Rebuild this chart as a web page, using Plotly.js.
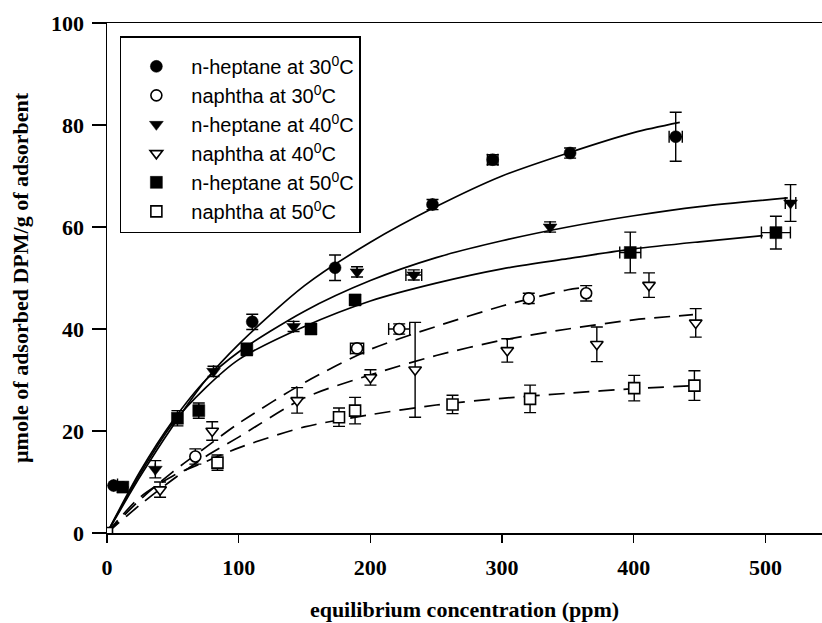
<!DOCTYPE html>
<html>
<head>
<meta charset="utf-8">
<script src="https://cdn.plot.ly/plotly-3.0.1.min.js"></script>
<style>
  html, body { margin: 0; padding: 0; background: #ffffff; }
  #chart { width: 822px; height: 623px; }
</style>
</head>
<body>
<div id="chart"></div>
<script>
// Measured adsorption points (x: equilibrium concentration, ppm; y: µmole/g)
const hep30X = [5, 110.3, 173.2, 247.2, 292.9, 351.7, 431.9];
const hep30Y = [9.3, 41.4, 52, 64.4, 73.2, 74.5, 77.7];
const hep30ErrY = [null, 1.5, 2.5, 1, 1, 1, 4.8];
const hep30ErrX = [null, null, null, null, 4, null, 5];

const nap30X = [67.1, 189.9, 221.9, 320.3, 363.9];
const nap30Y = [15, 36.2, 40, 46, 47];
const nap30ErrY = [1.5, 1, 1, 1, 1.5];
const nap30ErrX = [null, 5, 8, null, null];

const hep40X = [8, 36.7, 80.9, 141.7, 189.9, 233, 336.5, 519.1];
const hep40Y = [9.5, 12.5, 31.7, 40.5, 51.2, 50.6, 60, 64.7];
const hep40ErrY = [null, 1.7, 1, 1, 1, 1, 1, 3.6];
const hep40ErrX = [null, null, null, null, null, 6, null, 4];

const nap40X = [40.3, 79.9, 144.4, 200.1, 234, 304, 372, 411.6, 447.1];
const nap40Y = [8.5, 20, 26, 30.5, 32, 35.8, 37, 48.6, 41.2];
const nap40ErrY = [1.5, 1.8, 2.5, 1.5, 9.3, 2.3, 3.4, 2.4, 2.8];

const hep50X = [12, 53.5, 69.7, 106.2, 154.9, 188.4, 397.4, 508];
const hep50Y = [9, 22.5, 24, 36, 40, 45.7, 55, 58.9];
const hep50ErrY = [null, 1.5, 1.5, 1.2, 1, 1, 4, 3.2];
const hep50ErrX = [null, null, null, null, null, 4, 8, 11];

const nap50X = [0, 83.9, 176.2, 188.4, 262.4, 321.3, 400.4, 446.1];
const nap50Y = [0, 13.8, 22.7, 24, 25.2, 26.3, 28.4, 28.9];
const nap50ErrY = [null, 1.5, 1.8, 2.6, 1.8, 2.7, 2.5, 2.9];

// Fitted isotherm curves
const fitHep30X = [0, 25, 50, 75, 100, 150, 200, 250, 300, 350, 400, 435];
const fitHep30Y = [0, 11, 21, 30, 37, 48.5, 57, 64, 70, 74.5, 78.5, 80.5];

const fitHep40X = [0, 25, 50, 75, 100, 150, 200, 250, 300, 350, 400, 450, 517];
const fitHep40Y = [0, 12, 22, 30, 35.5, 43.5, 49.5, 54, 57.3, 60, 62.2, 64, 65.7];

const fitHep50X = [0, 25, 50, 75, 100, 150, 200, 250, 300, 350, 400, 450, 498];
const fitHep50Y = [0, 11.5, 21.5, 28.5, 34, 40.5, 45.5, 49, 51.8, 53.8, 55.7, 57.1, 58.3];

const fitNap30X = [0, 25, 50, 75, 100, 150, 200, 250, 300, 350, 364];
const fitNap30Y = [0, 6.5, 12, 16.8, 21.5, 29.5, 36, 40.5, 44.5, 47.7, 48.2];

const fitNap40X = [0, 25, 50, 75, 100, 150, 200, 250, 300, 350, 400, 445];
const fitNap40Y = [0, 5.5, 10.5, 15, 18.8, 26.5, 31, 34.8, 37.8, 40, 41.8, 42.8];

const fitNap50X = [0, 10, 25, 50, 75, 100, 150, 200, 250, 300, 350, 400, 445];
const fitNap50Y = [0, 3, 7, 11.2, 14, 16.7, 20.8, 23.2, 25.1, 26.4, 27.4, 28.3, 28.9];

const xTicks = [0, 100, 200, 300, 400, 500];
const yTicks = [0, 20, 40, 60, 80, 100];

const legendNames = [
  'n-heptane at 30<sup>0</sup>C',
  'naphtha at 30<sup>0</sup>C',
  'n-heptane at 40<sup>0</sup>C',
  'naphtha at 40<sup>0</sup>C',
  'n-heptane at 50<sup>0</sup>C',
  'naphtha at 50<sup>0</sup>C'
];

function fitLine(x, y, dashed) {
  return {
    x: x, y: y, type: 'scatter', mode: 'lines', showlegend: false,
    hoverinfo: 'skip',
    line: { color: '#000', width: 1.7, shape: 'spline', smoothing: 0.8,
            dash: dashed ? '16px,9px' : 'solid' }
  };
}

function points(name, x, y, ey, ex, symbol, open) {
  const t = {
    x: x, y: y, type: 'scatter', mode: 'markers', name: name,
    marker: {
      symbol: symbol, size: open ? 11 : 12,
      color: open ? '#fff' : '#000',
      line: { color: '#000', width: open ? 1.6 : 0.5 }
    },
    error_y: { type: 'data', array: ey, visible: true, color: '#000', thickness: 1.4, width: 6 }
  };
  if (ex) {
    t.error_x = { type: 'data', array: ex, visible: true, color: '#000', thickness: 1.4, width: 6 };
  }
  return t;
}

const data = [
  fitLine(fitHep30X, fitHep30Y, false),
  fitLine(fitHep40X, fitHep40Y, false),
  fitLine(fitHep50X, fitHep50Y, false),
  fitLine(fitNap30X, fitNap30Y, true),
  fitLine(fitNap40X, fitNap40Y, true),
  fitLine(fitNap50X, fitNap50Y, true),
  points(legendNames[0], hep30X, hep30Y, hep30ErrY, hep30ErrX, 'circle', false),
  points(legendNames[1], nap30X, nap30Y, nap30ErrY, nap30ErrX, 'circle', true),
  points(legendNames[2], hep40X, hep40Y, hep40ErrY, hep40ErrX, 'triangle-down', false),
  points(legendNames[3], nap40X, nap40Y, nap40ErrY, null, 'triangle-down', true),
  points(legendNames[4], hep50X, hep50Y, hep50ErrY, hep50ErrX, 'square', false),
  points(legendNames[5], nap50X, nap50Y, nap50ErrY, null, 'square', true)
];

const serif = 'Liberation Serif, Times New Roman, serif';
const tickFont = { family: serif, size: 22, color: '#000', weight: 'bold' };
const titleFont = { family: serif, size: 22, color: '#000', weight: 'bold' };

const layout = {
  width: 822, height: 623,
  margin: { l: 107, r: 0, t: 23, b: 90 },
  paper_bgcolor: '#fff', plot_bgcolor: '#fff',
  showlegend: true,
  legend: {
    x: 0.018, y: 0.974, xanchor: 'left', yanchor: 'top',
    bordercolor: '#000', borderwidth: 1.5, bgcolor: '#fff',
    font: { family: 'Liberation Sans, Arial, sans-serif', size: 20, color: '#000' },
    title: { text: '&nbsp;', font: { size: 7 } },
    traceorder: 'normal', itemwidth: 60
  },
  xaxis: {
    range: [0, 543], tickvals: xTicks, ticks: 'outside', ticklen: 8, tickwidth: 1.5,
    tickcolor: '#000', showline: true, linecolor: '#000', linewidth: 1.5, mirror: true,
    showgrid: false, zeroline: false, tickfont: tickFont, ticklabelstandoff: 6,
    title: { text: 'equilibrium concentration (ppm)', font: titleFont, standoff: 22 }
  },
  yaxis: {
    range: [0, 100], tickvals: yTicks, ticks: 'outside', ticklen: 14, tickwidth: 1.5,
    tickcolor: '#000', showline: true, linecolor: '#000', linewidth: 1.5, mirror: false,
    showgrid: false, zeroline: false, tickfont: tickFont, ticklabelstandoff: 3,
    title: { text: 'µmole of adsorbed DPM/g of adsorbent', font: titleFont, standoff: 16 }
  }
};

Plotly.newPlot('chart', data, layout, { displayModeBar: false, staticPlot: true });
</script>
</body>
</html>
